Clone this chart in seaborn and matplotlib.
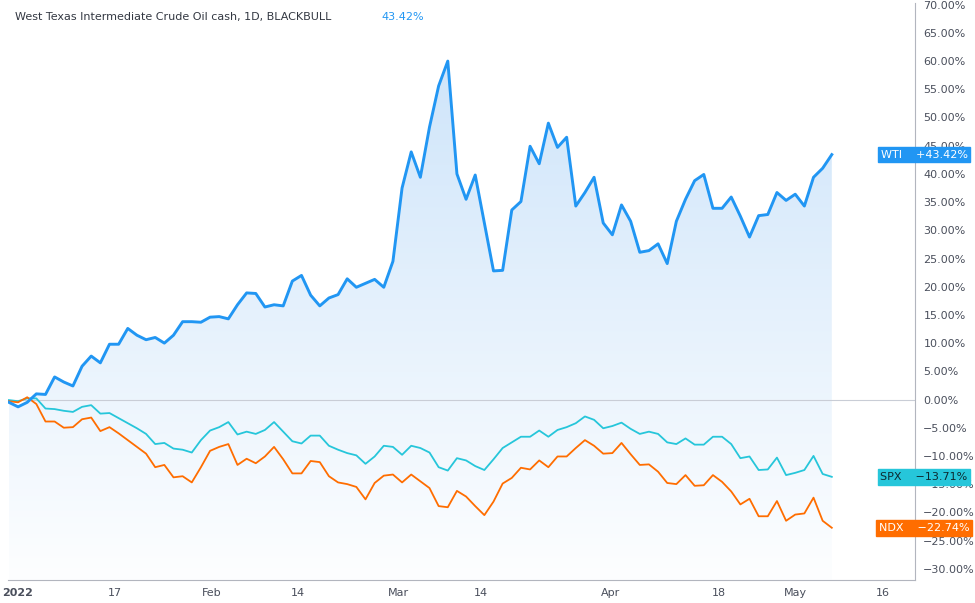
import numpy as np
import pandas as pd
import matplotlib
matplotlib.use("Agg")
import matplotlib.pyplot as plt
import seaborn as sns

# percent change since start of 2022
wti = [-0.5, -1.3, -0.5, 1.0, 0.9, 4.0, 3.1, 2.4, 5.9, 7.7, 6.5, 9.8, 9.8, 12.6, 11.4, 10.6,
       11.0, 10.0, 11.4, 13.8, 13.8, 13.7, 14.6, 14.7, 14.3, 16.8, 18.9, 18.8, 16.4, 16.8,
       16.6, 21.0, 22.0, 18.5, 16.6, 18.0, 18.6, 21.4, 19.9, 20.6, 21.3, 19.9, 24.5, 37.5,
       43.9, 39.4, 48.3, 55.6,
       60.0, 40.0, 35.5, 39.8, 31.3, 22.8, 22.9, 33.6, 35.1, 44.9, 41.8, 49.0, 44.7, 46.5,
       34.3, 36.7, 39.4, 31.3, 29.2, 34.5, 31.6, 26.1, 26.4, 27.6, 24.1, 31.6, 35.5, 38.8,
       39.9, 33.9, 33.9, 35.9, 32.5, 28.8, 32.6, 32.8, 36.7, 35.3, 36.4, 34.3, 39.4, 41.0, 43.42]
spx = [-0.1, -0.3, 0.2, 0.2, -1.6, -1.7, -2.0, -2.2, -1.3, -1.0, -2.5, -2.4, -3.3, -4.2, -5.1,
       -6.1, -7.9, -7.7, -8.7, -8.9, -9.4, -7.2, -5.5, -4.9, -4.0, -6.2, -5.7, -6.1, -5.4, -4.0,
       -5.7, -7.4, -7.8, -6.4, -6.4, -8.2, -8.9, -9.5, -9.9, -11.4, -10.1, -8.2, -8.4, -9.8,
       -8.2, -8.6, -9.4, -12.0,
       -12.6, -10.4, -10.8, -11.8, -12.5, -10.6, -8.6, -7.6, -6.6, -6.6, -5.5, -6.6, -5.4, -4.9,
       -4.2, -3.0, -3.6, -5.1, -4.7, -4.1, -5.2, -6.1, -5.7, -6.1, -7.6, -7.9, -6.9, -8.0, -8.0,
       -6.6, -6.6, -7.9, -10.4, -10.1, -12.5, -12.4, -10.3, -13.4, -13.0, -12.5, -10.0, -13.2, -13.71]
ndx = [-0.3, -0.5, 0.4, -0.8, -3.9, -3.9, -5.0, -4.9, -3.5, -3.2, -5.6, -4.9, -6.0, -7.2, -8.4,
       -9.6, -12.0, -11.6, -13.8, -13.6, -14.7, -12.0, -9.1, -8.4, -7.9, -11.6, -10.5, -11.3,
       -10.1, -8.4, -10.6, -13.1, -13.1, -10.9, -11.1, -13.6, -14.7, -15.0, -15.5, -17.7, -14.8,
       -13.5, -13.3, -14.7, -13.3, -14.5, -15.7, -18.9,
       -19.1, -16.2, -17.2, -18.9, -20.5, -18.1, -14.9, -13.9, -12.1, -12.4, -10.8, -12.0, -10.1,
       -10.1, -8.6, -7.2, -8.2, -9.6, -9.5, -7.7, -9.7, -11.6, -11.5, -12.8, -14.8, -15.0, -13.4,
       -15.3, -15.2, -13.4, -14.6, -16.3, -18.6, -17.6, -20.7, -20.7, -18.0, -21.5, -20.4, -20.2,
       -17.4, -21.5, -22.74]
tick_labels = ["2022", "17", "Feb", "14", "Mar", "14", "Apr", "18", "May", "16"]
tick_pos = [1, 11.6, 22.2, 31.6, 42.6, 51.6, 65.8, 77.6, 86, 95.6]

BLUE, CYAN, ORANGE = "#2196f3", "#26c6da", "#ff6d00"
idx = np.arange(len(wti))
df = pd.DataFrame({"i": idx, "WTI": wti, "SPX": spx, "NDX": ndx})

fig = plt.figure(figsize=(9.75, 6.03), dpi=100)
ax = fig.add_axes([8 / 975, 23 / 603, 907 / 975, 577 / 603])
ymin, ymax = -32, 70.3
xmin, xmax = -0.1, 99.1

# gradient area under WTI
grad = np.linspace(0, 1, 256).reshape(-1, 1)
cmap = matplotlib.colors.LinearSegmentedColormap.from_list("g", ["#fdfeff", "#cfe5fa"])
im = ax.imshow(grad, extent=[0, len(wti) - 1, ymin, 60], origin="lower", aspect="auto",
               cmap=cmap, zorder=0)
poly = ax.fill_between(idx, wti, ymin, color="none")
im.set_clip_path(poly.get_paths()[0], transform=ax.transData)

ax.axhline(0, color="#c9cdd6", lw=0.8, zorder=1)
sns.lineplot(data=df, x="i", y="WTI", color=BLUE, lw=2.1, ax=ax, zorder=4)
sns.lineplot(data=df, x="i", y="SPX", color=CYAN, lw=1.3, ax=ax, zorder=3)
sns.lineplot(data=df, x="i", y="NDX", color=ORANGE, lw=1.3, ax=ax, zorder=3)

ax.set_xlim(xmin, xmax)
ax.set_ylim(ymin, ymax)
ax.set_xlabel("")
ax.set_ylabel("")
ax.yaxis.tick_right()
yt = np.arange(-30, 71, 5)
ax.set_yticks(yt)
ax.set_yticklabels([f"{v:.2f}%".replace("-", "\u2212") for v in yt])
ax.set_xticks(tick_pos)
ax.set_xticklabels(tick_labels)
ax.tick_params(axis="both", length=0, labelsize=8, colors="#4a4f5c", pad=6)
ax.get_xticklabels()[0].set_fontweight("bold")
for s in ["top", "left"]:
    ax.spines[s].set_visible(False)
for s in ["right", "bottom"]:
    ax.spines[s].set_color("#b2b5be")

ax.text(0.008, 0.985, "West Texas Intermediate Crude Oil cash, 1D, BLACKBULL",
        transform=ax.transAxes, fontsize=8, color="#333842", va="top")
ax.text(0.412, 0.985, "43.42%", transform=ax.transAxes, fontsize=8, color=BLUE, va="top")

for name, vals, col, tcol in [("WTI", wti, BLUE, "white"), ("SPX", spx, CYAN, "#0d2a30"),
                              ("NDX", ndx, ORANGE, "white")]:
    v = vals[-1]
    sign = "+" if v > 0 else "\u2212"
    ax.annotate(f"{name}    {sign}{abs(v):.2f}%", xy=(1.01, v),
                xycoords=("axes fraction", "data"), ha="center", va="center",
                fontsize=8, color=tcol, annotation_clip=False, zorder=10,
                bbox=dict(boxstyle="square,pad=0.25", fc=col, ec=col))

fig.savefig("out.png", dpi=100)
